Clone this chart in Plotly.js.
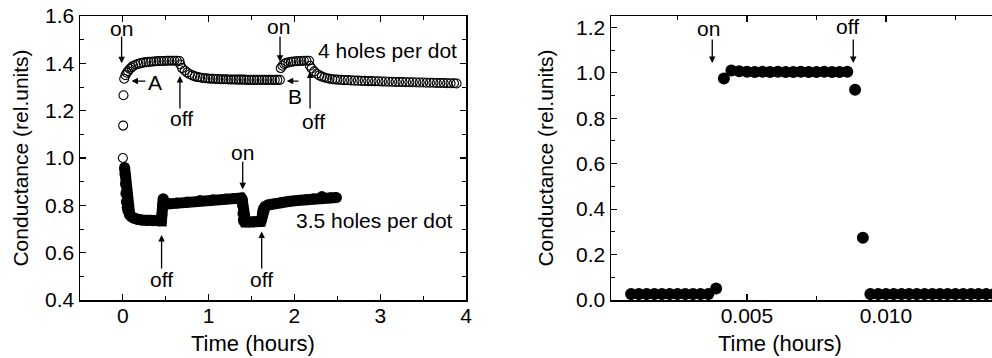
<!DOCTYPE html>
<html>
<head>
<meta charset="utf-8">
<script src="https://cdn.plot.ly/plotly-3.0.1.min.js"></script>
<style>
html,body{margin:0;padding:0;overflow:hidden;background:#fff;}
#chart{width:1020px;height:358px;}
</style>
</head>
<body>
<div id="chart"></div>
<script>
// ---- Left panel: 4 holes per dot (open circles), segments in time (hours)
const holes4_seg1_t = [0.000,0.003,0.007,0.015,0.03,0.045,0.06,0.08,0.10,0.12,0.15,0.18,0.21,0.24,0.27,0.30,0.33,0.36,0.39,0.42,0.45,0.48,0.51,0.54,0.57,0.60,0.63,0.66];
const holes4_seg1_g = [1.000,1.137,1.265,1.335,1.350,1.360,1.367,1.376,1.383,1.389,1.394,1.398,1.401,1.403,1.405,1.406,1.407,1.408,1.409,1.410,1.410,1.410,1.411,1.411,1.411,1.411,1.411,1.410];
const holes4_seg2_t = [0.67,0.69,0.72,0.75,0.78,0.81,0.84,0.87,0.90,0.93,0.96,0.99,1.02,1.05,1.08,1.11,1.14,1.17,1.20,1.23,1.26,1.29,1.32,1.35,1.38,1.41,1.44,1.47,1.50,1.53,1.56,1.59,1.62,1.65,1.68,1.71,1.74,1.77,1.80,1.83];
const holes4_seg2_g = [1.395,1.380,1.370,1.361,1.354,1.349,1.345,1.342,1.340,1.338,1.337,1.336,1.335,1.335,1.334,1.334,1.333,1.333,1.333,1.332,1.332,1.332,1.331,1.331,1.331,1.331,1.330,1.330,1.330,1.330,1.330,1.330,1.330,1.330,1.330,1.330,1.330,1.330,1.330,1.330];
const holes4_seg3_t = [1.84,1.86,1.88,1.90,1.93,1.96,1.99,2.02,2.05,2.08,2.11,2.14,2.17];
const holes4_seg3_g = [1.380,1.390,1.397,1.401,1.404,1.406,1.408,1.409,1.410,1.410,1.411,1.411,1.411];
const holes4_seg4_t = [2.18,2.20,2.23,2.26,2.29,2.32,2.35,2.38,2.41,2.44,2.47,2.50,2.54,2.58,2.62,2.66,2.70,2.74,2.78,2.82,2.86,2.90,2.94,2.98,3.02,3.06,3.10,3.14,3.18,3.22,3.26,3.30,3.34,3.38,3.42,3.46,3.50,3.54,3.58,3.62,3.66,3.70,3.74,3.78,3.82,3.86,3.89];
const holes4_seg4_g = [1.390,1.378,1.366,1.356,1.349,1.344,1.340,1.337,1.335,1.333,1.332,1.331,1.330,1.329,1.329,1.328,1.327,1.327,1.326,1.326,1.325,1.325,1.324,1.324,1.323,1.323,1.322,1.322,1.321,1.321,1.321,1.320,1.320,1.320,1.319,1.319,1.319,1.318,1.318,1.318,1.317,1.317,1.317,1.316,1.316,1.316,1.315];

// ---- Left panel: 3.5 holes per dot (filled)
const holes35_t = [0.02,0.025,0.03,0.035,0.04,0.05,0.06,0.08,0.10,0.13,0.17,0.22,0.28,0.35,0.42,0.45,0.455,0.46,0.465,0.47,0.48,0.50,0.55,0.63,0.75,0.90,1.05,1.20,1.30,1.38,1.39,1.395,1.40,1.405,1.41,1.43,1.47,1.52,1.57,1.61,1.62,1.625,1.63,1.64,1.66,1.69,1.73,1.78,1.85,1.93,2.03,2.13,2.22,2.30,2.32,2.35,2.42,2.49];
const holes35_g = [0.960,0.930,0.890,0.850,0.815,0.790,0.775,0.760,0.752,0.745,0.741,0.738,0.736,0.735,0.734,0.735,0.760,0.785,0.805,0.828,0.812,0.805,0.807,0.810,0.814,0.820,0.824,0.827,0.829,0.831,0.825,0.800,0.765,0.740,0.732,0.730,0.730,0.730,0.731,0.732,0.745,0.760,0.775,0.787,0.795,0.801,0.805,0.808,0.812,0.816,0.820,0.824,0.828,0.830,0.837,0.831,0.832,0.833];

// ---- Right panel: fast switching (hours)
const fast_t = [0.00083,0.00111,0.00139,0.00167,0.00194,0.00222,0.00250,0.00278,0.00306,0.00333,0.00361,0.00389,0.00417,0.00444,0.00472,0.00500,0.00528,0.00556,0.00583,0.00611,0.00639,0.00667,0.00694,0.00722,0.00750,0.00778,0.00806,0.00833,0.00861,0.00889,0.00917,0.00944,0.00972,0.01000,0.01028,0.01056,0.01083,0.01111,0.01139,0.01167,0.01194,0.01222,0.01250,0.01278,0.01306,0.01333,0.01361,0.01389];
const fast_g = [0.026,0.026,0.026,0.026,0.026,0.026,0.026,0.026,0.026,0.026,0.026,0.051,0.975,1.010,1.007,1.005,1.004,1.005,1.004,1.005,1.004,1.004,1.005,1.004,1.004,1.005,1.004,1.004,1.005,0.925,0.274,0.026,0.026,0.026,0.026,0.026,0.026,0.026,0.026,0.026,0.026,0.026,0.026,0.026,0.026,0.026,0.026,0.026];

// ---- Tick labels / text
const leftXTicks = [0,1,2,3,4];
const leftYTicks = [0.4,0.6,0.8,1.0,1.2,1.4,1.6];
const rightYTicks = [0.0,0.2,0.4,0.6,0.8,1.0,1.2];
const rightXTicks = [0.005,0.010];
const yTitle = 'Conductance (rel.units)';
const xTitle = 'Time (hours)';

const holes4_t = holes4_seg1_t.concat(holes4_seg2_t, holes4_seg3_t, holes4_seg4_t);
const holes4_g = holes4_seg1_g.concat(holes4_seg2_g, holes4_seg3_g, holes4_seg4_g);

const FONT = '"Liberation Sans", Arial, Helvetica, sans-serif';

const traces = [
  {x: holes35_t, y: holes35_g, xaxis:'x', yaxis:'y', mode:'lines+markers', name:'3.5 holes per dot',
   line:{color:'#000', width:11}, marker:{symbol:'circle', size:11, color:'#000'}},
  {x: holes4_t, y: holes4_g, xaxis:'x', yaxis:'y', mode:'markers', name:'4 holes per dot',
   marker:{symbol:'circle-open', size:9, color:'#000', line:{color:'#000', width:1.1}}},
  {x: fast_t, y: fast_g, xaxis:'x2', yaxis:'y2', mode:'markers', name:'fast',
   marker:{symbol:'circle', size:12, color:'#000'}}
];

const axBase = {showline:true, linecolor:'#000', linewidth:1.5, mirror:'ticks', ticks:'inside',
  ticklen:6, tickwidth:1.2, tickcolor:'#000', showgrid:false, zeroline:false,
  tickfont:{family:FONT, size:21, color:'#000'}};

function ann(xref, yref, x, y, text) {
  return {xref, yref, x, y, text, showarrow:false, font:{family:FONT, size:21, color:'#000'}, xanchor:'center', yanchor:'middle'};
}
function arrow(xref, yref, x, y, ax, ay) {
  return {xref, yref, x, y, ax, ay, axref:xref, ayref:yref, text:'', showarrow:true,
    arrowhead:2, arrowsize:1, arrowwidth:1.3, arrowcolor:'#000', standoff:0, startstandoff:0};
}

const annotations = [
  ann('x','y',-0.015,1.548,'on'), arrow('x','y',-0.015,1.40,-0.015,1.52),
  ann('x','y',0.373,1.317,'A'), arrow('x','y',0.10,1.325,0.28,1.325),
  ann('x','y',0.685,1.168,'off'), arrow('x','y',0.665,1.347,0.665,1.203),
  ann('x','y',1.812,1.555,'on'), arrow('x','y',1.832,1.407,1.832,1.52),
  ann('x','y',2.007,1.259,'B'), arrow('x','y',1.91,1.325,2.065,1.325),
  ann('x','y',2.22,1.153,'off'), arrow('x','y',2.182,1.365,2.182,1.203),
  ann('x','y',3.08,1.456,'4 holes per dot'),
  ann('x','y',2.93,0.738,'3.5 holes per dot'),
  ann('x','y',1.397,1.022,'on'), arrow('x','y',1.397,0.868,1.397,0.991),
  ann('x','y',0.451,0.485,'off'), arrow('x','y',0.451,0.675,0.451,0.527),
  ann('x','y',1.618,0.485,'off'), arrow('x','y',1.618,0.689,1.618,0.527),
  ann('x2','y2',0.003608,1.196,'on'), arrow('x2','y2',0.003751,1.043,0.003751,1.153),
  ann('x2','y2',0.008609,1.203,'off'), arrow('x2','y2',0.008825,1.043,0.008825,1.153),
  {xref:'paper', yref:'paper', x:253.3/1020, y:(358-343)/358, text:xTitle, showarrow:false,
   font:{family:FONT, size:22, color:'#000'}, xanchor:'center', yanchor:'middle'},
  {xref:'paper', yref:'paper', x:780/1020, y:(358-343)/358, text:xTitle, showarrow:false,
   font:{family:FONT, size:22, color:'#000'}, xanchor:'center', yanchor:'middle'}
];

const yDom = [58/358, 342/358];
const layout = {
  width:1020, height:358, margin:{l:0, r:0, t:0, b:0},
  paper_bgcolor:'#fff', plot_bgcolor:'#fff', showlegend:false,
  xaxis: Object.assign({}, axBase, {domain:[80/1020, 466/1020], range:[-0.5,4], tickvals:leftXTicks, ticklabelstandoff:-4,
    minor:{dtick:0.5, tick0:0, ticks:'inside', ticklen:4, tickwidth:1, tickcolor:'#000'}, anchor:'y'}),
  yaxis: Object.assign({}, axBase, {domain:yDom, range:[0.4,1.6], tickvals:leftYTicks, tickformat:'.1f',
    minor:{dtick:0.1, tick0:0.4, ticks:'inside', ticklen:4, tickwidth:1, tickcolor:'#000'}, anchor:'x',
    title:{text:yTitle, font:{family:FONT, size:21, color:'#000'}, standoff:10}}),
  xaxis2: Object.assign({}, axBase, {domain:[611/1020, 1011/1020], range:[0.000108,0.0145], tickvals:rightXTicks, tickformat:'.3f', ticklabelstandoff:-4,
    minor:{dtick:0.0025, tick0:0, ticks:'inside', ticklen:4, tickwidth:1, tickcolor:'#000'}, anchor:'y2'}),
  yaxis2: Object.assign({}, axBase, {domain:yDom, range:[0,1.25], tickvals:rightYTicks, tickformat:'.1f',
    minor:{dtick:0.1, tick0:0, ticks:'inside', ticklen:4, tickwidth:1, tickcolor:'#000'}, anchor:'x2',
    title:{text:yTitle, font:{family:FONT, size:21, color:'#000'}, standoff:16}}),
  annotations
};

Plotly.newPlot('chart', traces, layout, {staticPlot:true, displayModeBar:false});
</script>
</body>
</html>
